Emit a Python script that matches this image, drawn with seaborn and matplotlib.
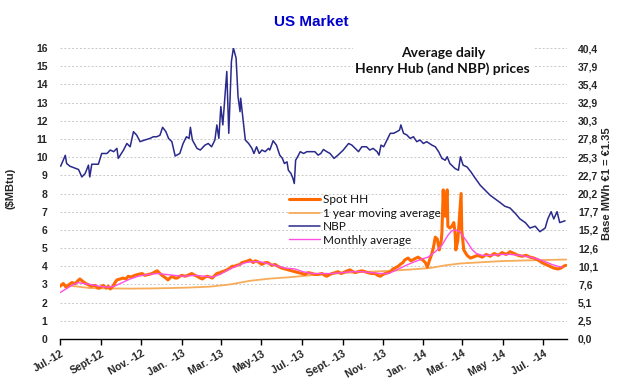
import numpy as np
import pandas as pd
import matplotlib
matplotlib.use("Agg")
import matplotlib.pyplot as plt
import seaborn as sns

# all series; day = days since 1 Jul 2012
start = pd.Timestamp("2012-07-01")

nbp_day = [1, 8, 10, 15, 20, 28, 33, 38, 43, 45, 48, 58, 63, 71, 76, 81, 86, 88, 96, 101,
           106, 111, 116, 121, 128, 136, 141, 146, 151, 155, 160, 164, 169, 174, 181, 186,
           191, 195, 197, 200, 207, 212, 219, 224, 229, 234, 237, 240, 243, 246, 249, 252,
           255, 259, 262, 266, 269, 272, 273, 280, 285, 290, 293, 297, 301, 305, 310, 315,
           317, 322, 327, 332, 336, 339, 343, 345, 349, 352, 354, 356, 359, 363, 368, 373,
           380, 385, 390, 394, 398, 403, 408, 414, 420, 428, 436, 441, 446, 451, 456, 463,
           468, 473, 479, 482, 485, 489, 494, 499, 504, 509, 513, 515, 519, 524, 529, 534,
           539, 544, 549, 554, 562, 567, 572, 577, 582, 585, 589, 597, 602, 605, 609, 615,
           621, 626, 635, 650, 665, 672, 680, 688, 695, 703, 710, 718, 725, 733, 737, 742,
           746, 751, 755, 763]
nbp_val = [9.5, 10.1, 9.65, 9.5, 9.43, 9.32, 8.91, 9.1, 9.56, 8.91, 9.61, 9.61, 10.2, 10.2,
           10.39, 10.3, 10.48, 9.93, 10.39, 10.75, 10.57, 11.4, 11.2, 10.85, 10.94, 11.03,
           11.12, 11.12, 11.2, 11.64, 11.4, 11.03, 10.85, 10.06, 10.2, 10.75, 11.12, 11.03,
           11.64, 10.94, 10.48, 10.39, 10.66, 10.75, 10.57, 10.94, 11.77, 11.03, 12.78,
           11.77, 13.24, 14.71, 11.31, 15.27, 16.0, 15.45, 13.33, 12.5, 13.24, 10.94, 10.75,
           10.48, 10.2, 10.57, 10.2, 10.39, 10.3, 10.48, 10.39, 10.9, 10.66, 10.11, 9.93,
           9.65, 9.74, 9.28, 9.1, 8.82, 8.55, 9.83, 10.02, 10.3, 10.2, 10.3, 10.3, 10.3,
           10.11, 10.2, 10.42, 10.3, 10.2, 9.93, 10.11, 10.39, 10.75, 10.66, 10.48, 10.3,
           10.57, 10.57, 10.39, 10.48, 10.3, 10.11, 10.66, 10.57, 10.94, 11.31, 11.31, 11.4,
           11.49, 11.77, 11.31, 11.22, 11.03, 11.12, 10.85, 10.94, 10.75, 10.85, 10.66,
           10.57, 10.3, 9.93, 9.83, 10.02, 9.65, 9.37, 9.28, 10.02, 9.56, 9.46, 9.18, 8.91,
           8.45, 7.9, 7.5, 7.3, 7.2, 6.9, 6.6, 6.4, 6.1, 6.2, 5.9, 6.1, 6.6, 7.0, 6.6, 7.0,
           6.4, 6.5]

hh_day = [0, 5, 9, 14, 18, 23, 27, 30, 35, 39, 42, 47, 53, 57, 60, 65, 70, 73, 76, 80, 83,
          86, 91, 95, 100, 103, 107, 113, 118, 124, 128, 134, 139, 144, 147, 151, 156, 160,
          163, 166, 169, 174, 177, 181, 184, 189, 193, 199, 204, 207, 212, 215, 219, 222,
          227, 230, 234, 237, 242, 245, 249, 252, 257, 260, 264, 267, 272, 275, 280, 284,
          287, 292, 295, 299, 305, 310, 314, 320, 325, 329, 335, 340, 345, 350, 355, 360,
          366, 370, 375, 381, 385, 390, 396, 400, 403, 408, 411, 416, 420, 425, 428, 434,
          438, 443, 446, 450, 456, 461, 465, 471, 476, 480, 484, 488, 491, 496, 499, 503,
          506, 511, 514, 518, 521, 526, 530, 533, 538, 541, 545, 548, 552, 555, 558, 561,
          564, 567, 570, 573, 576, 577, 579, 580, 582, 583, 585, 586, 589, 592, 595, 597,
          598, 601, 604, 606, 607, 610, 615, 620, 624, 631, 638, 644, 650, 656, 662, 668,
          674, 680, 686, 692, 698, 704, 710, 716, 722, 728, 734, 740, 746, 752, 757, 761,
          764]
hh_val = [2.9, 3.05, 2.85, 3.0, 3.1, 3.05, 3.2, 3.3, 3.15, 3.05, 3.0, 2.9, 2.95, 2.8, 2.8,
          2.95, 2.8, 2.9, 2.75, 2.9, 3.1, 3.25, 3.3, 3.35, 3.3, 3.45, 3.4, 3.5, 3.55, 3.6,
          3.5, 3.55, 3.6, 3.7, 3.75, 3.6, 3.45, 3.35, 3.25, 3.35, 3.45, 3.35, 3.35, 3.45,
          3.5, 3.45, 3.5, 3.6, 3.5, 3.45, 3.35, 3.3, 3.4, 3.45, 3.4, 3.35, 3.5, 3.6, 3.65,
          3.7, 3.75, 3.8, 3.9, 4.0, 4.0, 4.05, 4.1, 4.2, 4.25, 4.3, 4.35, 4.2, 4.3, 4.25,
          4.1, 4.2, 4.2, 4.05, 4.1, 4.0, 3.9, 3.85, 3.8, 3.75, 3.7, 3.65, 3.6, 3.55, 3.65,
          3.6, 3.55, 3.55, 3.6, 3.5, 3.45, 3.55, 3.6, 3.65, 3.7, 3.6, 3.65, 3.75, 3.8, 3.7,
          3.65, 3.7, 3.75, 3.7, 3.65, 3.6, 3.6, 3.5, 3.45, 3.55, 3.6, 3.65, 3.7, 3.85, 3.9,
          4.0, 4.1, 4.2, 4.35, 4.45, 4.3, 4.35, 4.45, 4.5, 4.4, 4.35, 4.2, 3.95, 4.3, 4.6,
          5.0, 5.6, 5.5, 4.9, 5.4, 5.85, 8.2, 7.0, 6.75, 7.5, 8.2, 6.2, 6.1, 6.2, 6.4, 5.8,
          4.9, 5.4, 7.0, 8.0, 6.0, 4.9, 4.6, 4.45, 4.5, 4.6, 4.5, 4.65, 4.55, 4.7, 4.6,
          4.75, 4.65, 4.8, 4.7, 4.6, 4.55, 4.6, 4.5, 4.45, 4.35, 4.2, 4.1, 4.0, 3.9, 3.85,
          3.9, 4.0, 4.05]

avg_day = [0, 9, 18, 27, 36, 45, 60, 73, 82, 94, 106, 118, 133, 148, 160, 172, 187, 204,
           219, 230, 242, 254, 266, 280, 290, 302, 314, 325, 340, 355, 367, 381, 396, 411,
           426, 441, 456, 471, 484, 496, 506, 517, 526, 536, 547, 556, 567, 577, 586, 592,
           598, 604, 610, 615, 623, 629, 638, 650, 665, 680, 695, 710, 722, 733, 743, 752,
           759]
avg_val = [2.55, 2.75, 2.95, 3.1, 3.05, 3.0, 2.9, 2.85, 2.9, 3.1, 3.3, 3.45, 3.55, 3.6,
           3.55, 3.5, 3.45, 3.5, 3.45, 3.4, 3.55, 3.8, 4.0, 4.2, 4.25, 4.25, 4.15, 4.05, 3.9,
           3.85, 3.7, 3.6, 3.6, 3.6, 3.65, 3.7, 3.7, 3.65, 3.6, 3.6, 3.75, 3.95, 4.1, 4.25,
           4.4, 4.5, 4.8, 5.15, 5.7, 5.95, 6.0, 5.9, 5.6, 5.35, 4.9, 4.7, 4.6, 4.6, 4.65,
           4.65, 4.6, 4.5, 4.4, 4.25, 4.1, 4.0, 3.95]

ma_day = [0, 23, 45, 76, 106, 136, 166, 196, 227, 257, 287, 317, 348, 378, 408, 438, 468,
          499, 529, 559, 582, 604, 627, 665, 703, 740, 765]
ma_val = [3.0, 2.9, 2.8, 2.78, 2.77, 2.78, 2.8, 2.83, 2.88, 3.0, 3.2, 3.32, 3.4, 3.5, 3.58,
          3.65, 3.7, 3.75, 3.82, 3.9, 4.05, 4.15, 4.2, 4.28, 4.32, 4.35, 4.37]

tick_dates = ["2012-07-01", "2012-09-01", "2012-11-01", "2013-01-01", "2013-03-01",
              "2013-05-01", "2013-07-01", "2013-09-01", "2013-11-01", "2014-01-01",
              "2014-03-01", "2014-05-01", "2014-07-01"]
tick_labels = ["Jul.-12", "Sept-12", "Nov. -12", "Jan.  -13", "Mar. -13", "May-13",
               "Jul. -13", "Sept. -13", "Nov.   -13", "Jan.   -14", "Mar.  -14",
               "May  -14", "Jul.  -14"]
right_labels = ["0,0", "2,5", "5,1", "7,6", "10,1", "12,6", "15,2", "17,7", "20,2",
                "22,7", "25,3", "27,8", "30,3", "32,9", "35,4", "37,9", "40,4"]


def to_frame(days, vals):
    return pd.DataFrame({"date": start + pd.to_timedelta(days, unit="D"), "value": vals})


sns.set_theme(style="white")
plt.rcParams["font.family"] = ["Liberation Sans", "DejaVu Sans"]

fig = plt.figure(figsize=(6.23, 3.84), dpi=100)
ax = fig.add_axes([60 / 623, 1 - 339 / 384, 507 / 623, 291 / 384])

sns.lineplot(data=to_frame(hh_day, hh_val), x="date", y="value", ax=ax,
             color="#ff6a00", lw=2.2, label="Spot HH", zorder=3)
sns.lineplot(data=to_frame(ma_day, ma_val), x="date", y="value", ax=ax,
             color="#f7ac5a", lw=1.3, label="1 year moving average", zorder=2)
sns.lineplot(data=to_frame(nbp_day, nbp_val), x="date", y="value", ax=ax,
             color="#2a2a8c", lw=1.1, label="NBP", zorder=3)
sns.lineplot(data=to_frame(avg_day, avg_val), x="date", y="value", ax=ax,
             color="#ff4fe0", lw=1.0, label="Monthly average", zorder=4)

ax.set_xlim(start, start + pd.Timedelta(days=766))
ax.set_ylim(0, 16)
ax.set_yticks(range(17))
ax.set_xticks(pd.to_datetime(tick_dates))
ax.set_xticklabels(tick_labels, rotation=30, ha="right", rotation_mode="anchor",
                   fontsize=7.5, fontweight="bold")
ax.tick_params(axis="y", length=0, pad=9, labelsize=7.5)
for t in ax.get_yticklabels():
    t.set_fontweight("bold")
ax.tick_params(axis="x", direction="out", length=4, width=1, color="black", pad=3, bottom=True)
ax.set_xlabel("")
ax.set_ylabel("")
ax.yaxis.grid(True, ls=(0, (2, 2)), color="#c8c8c8", lw=0.7)
ax.set_axisbelow(True)
for s in ["left", "right", "top"]:
    ax.spines[s].set_visible(False)
ax.spines["bottom"].set_color("black")
ax.spines["bottom"].set_linewidth(1.0)

ax2 = ax.twinx()
ax2.set_ylim(0, 16)
ax2.set_yticks(range(17))
ax2.set_yticklabels(right_labels, fontsize=7.5, fontweight="bold")
ax2.tick_params(axis="y", length=0, pad=8)
for s in ax2.spines.values():
    s.set_visible(False)

leg = ax.legend(loc="upper left", bbox_to_anchor=(0.435, 0.525), frameon=False,
                handlelength=2.6, handletextpad=0.3, labelspacing=0.2,
                borderpad=0.2, prop={"family": "Lato", "size": 8.5})
for txt in leg.get_texts():
    txt.set_color("#111111")

ax.text(0.755, 0.955, "Average daily\nHenry Hub (and NBP) prices", transform=ax.transAxes,
        ha="center", va="center", fontsize=10, family="Lato", fontweight="bold",
        linespacing=1.25, color="#111111",
        bbox=dict(facecolor="white", edgecolor="none", pad=2), zorder=6)

fig.text(311 / 623, 1 - 22 / 384, "US Market", ha="center", va="center",
         fontsize=11, fontweight="bold", color="#0000cc")
fig.text(11 / 623, 1 - 188 / 384, "($MBtu)", rotation=90, ha="center", va="center",
         fontsize=8, fontweight="bold")
fig.text(607 / 623, 1 - 184 / 384, "Base MWh €1 = €1.35", rotation=90, ha="center",
         va="center", fontsize=8, fontweight="bold")

fig.savefig("out.png", dpi=100)
